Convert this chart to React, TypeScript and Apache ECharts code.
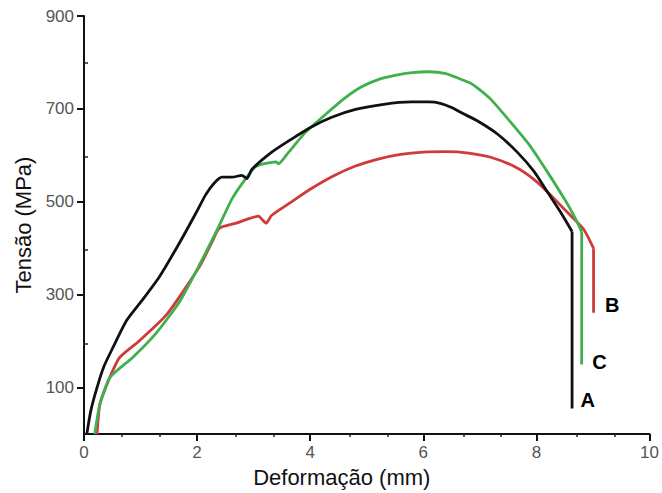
import React, { useEffect, useRef } from "react";
import * as echarts from "echarts";

// Curve A (black): loading part, then final vertical drop
const xA = [0.05, 0.12, 0.23, 0.35, 0.51, 0.75, 1.04, 1.34, 1.69, 1.98, 2.15, 2.3, 2.44, 2.62, 2.79, 2.88, 2.97, 3.32, 3.67, 4.02, 4.38, 4.8, 5.3, 5.78, 6.1, 6.3, 6.5, 6.7, 6.96, 7.31, 7.66, 7.96, 8.19, 8.42, 8.63];
const yA = [0, 50, 100, 145, 186, 244, 290, 340, 412, 476, 515, 540, 553, 553, 557, 550, 570, 607, 635, 661, 682, 699, 710, 715, 715, 712, 703, 690, 674, 646, 607, 565, 522, 479, 436];
const dropA = [436, 55];

// Curve B (red)
const xB = [0.23, 0.28, 0.4, 0.51, 0.63, 0.98, 1.46, 2.04, 2.27, 2.39, 2.69, 2.92, 3.09, 3.15, 3.22, 3.32, 3.67, 4.0, 4.4, 4.8, 5.2, 5.6, 6.0, 6.4, 6.8, 7.19, 7.61, 7.96, 8.24, 8.59, 8.84, 9.01];
const yB = [0, 64, 105, 137, 165, 201, 257, 360, 415, 443, 454, 464, 469, 462, 454, 471, 500, 527, 555, 577, 592, 602, 607, 608, 605, 596, 576, 548, 516, 472, 440, 400];
const dropB = [400, 261];

// Curve C (green)
const xC = [0.19, 0.28, 0.46, 0.86, 1.28, 1.69, 2.04, 2.39, 2.62, 2.86, 3.04, 3.39, 3.44, 3.62, 3.92, 4.27, 4.6, 4.9, 5.2, 5.5, 5.8, 6.1, 6.4, 6.66, 6.84, 7.0, 7.19, 7.54, 7.89, 8.19, 8.49, 8.66, 8.8];
const yC = [0, 64, 122, 165, 218, 285, 364, 449, 507, 550, 576, 586, 582, 607, 650, 688, 722, 747, 763, 772, 778, 780, 776, 764, 755, 741, 721, 672, 620, 565, 507, 471, 436];
const dropC = [436, 150];

const yTicks = [100, 300, 500, 700, 900];
const yMinorTicks = [200, 400, 600, 800];
const xMinorTicks = [0.667, 1.333, 2.667, 3.333, 4.667, 5.333, 6.667, 7.333, 8.667, 9.333];

const zip = (xs: number[], ys: number[]) => xs.map((x, i) => [x, ys[i]]);

const FONT = "'Liberation Sans', Arial, sans-serif";
const GRID = { left: 84, right: 9, top: 16, bottom: 56 };

export default function App() {
  const ref = useRef<HTMLDivElement>(null);
  useEffect(() => {
    document.body.style.margin = "0";
    const chart = echarts.init(ref.current!, null, { renderer: "svg" });
    const curve = (xs: number[], ys: number[], color: string) => ({
      type: "line",
      data: zip(xs, ys),
      showSymbol: false,
      symbol: "none",
      smooth: 0.2,
      lineStyle: { color, width: 2.8 },
    });
    const drop = (name: string, xs: number[], drops: number[], color: string, off: number[]) => ({
      type: "line",
      name,
      data: drops.map((y) => [xs[xs.length - 1], y]),
      showSymbol: false,
      symbol: "none",
      lineStyle: { color, width: 2.8 },
      endLabel: {
        show: true,
        formatter: name,
        color: "#000",
        fontWeight: "bold",
        fontSize: 20,
        fontFamily: FONT,
        distance: 5,
        offset: off,
      },
    });
    chart.setOption({
      animation: false,
      backgroundColor: "#fff",
      textStyle: { fontFamily: FONT },
      grid: [GRID, GRID],
      xAxis: [
        {
          type: "value",
          gridIndex: 0,
          min: 0,
          max: 10,
          interval: 2,
          name: "Deformação (mm)",
          nameLocation: "middle",
          nameGap: 27,
          nameTextStyle: { fontSize: 22, color: "#111", fontFamily: FONT, padding: [0, 50, 0, 0] },
          axisLine: { show: true, lineStyle: { color: "#111", width: 2 } },
          axisTick: { show: true, length: 7, lineStyle: { color: "#111", width: 2 } },
          axisLabel: { color: "#555", fontSize: 17, margin: 10, fontFamily: FONT },
          splitLine: { show: false },
        },
        {
          type: "value",
          gridIndex: 1,
          min: 0,
          max: 10,
          position: "bottom",
          axisLine: { show: false },
          axisTick: { show: true, inside: true, length: 4, customValues: xMinorTicks, lineStyle: { color: "#222", width: 1.5 } },
          axisLabel: { show: false },
          splitLine: { show: false },
        },
      ],
      yAxis: [
        {
          type: "value",
          gridIndex: 0,
          min: 0,
          max: 900,
          name: "Tensão (MPa)",
          nameLocation: "middle",
          nameGap: 50,
          nameTextStyle: { fontSize: 22, color: "#111", fontFamily: FONT },
          axisLine: { show: true, lineStyle: { color: "#111", width: 2 } },
          axisTick: { show: true, length: 7, customValues: yTicks, lineStyle: { color: "#111", width: 2 } },
          axisLabel: { color: "#555", fontSize: 17, margin: 10, customValues: yTicks, fontFamily: FONT },
          splitLine: { show: false },
        },
        {
          type: "value",
          gridIndex: 1,
          min: 0,
          max: 900,
          position: "left",
          axisLine: { show: false },
          axisTick: { show: true, inside: true, length: 4, customValues: yMinorTicks, lineStyle: { color: "#222", width: 1.5 } },
          axisLabel: { show: false },
          splitLine: { show: false },
        },
      ],
      series: [
        curve(xB, yB, "#cf3b3b"),
        drop("B", xB, dropB, "#cf3b3b", [6.5, -8]),
        curve(xC, yC, "#3fb04c"),
        drop("C", xC, dropC, "#3fb04c", [5.5, -2]),
        curve(xA, yA, "#111111"),
        drop("A", xA, dropA, "#111111", [3.5, -9]),
      ],
    });
    return () => chart.dispose();
  }, []);
  return (
    <div
      ref={ref}
      style={{ position: "absolute", left: 0, top: 0, width: 662, height: 493 }}
    />
  );
}
